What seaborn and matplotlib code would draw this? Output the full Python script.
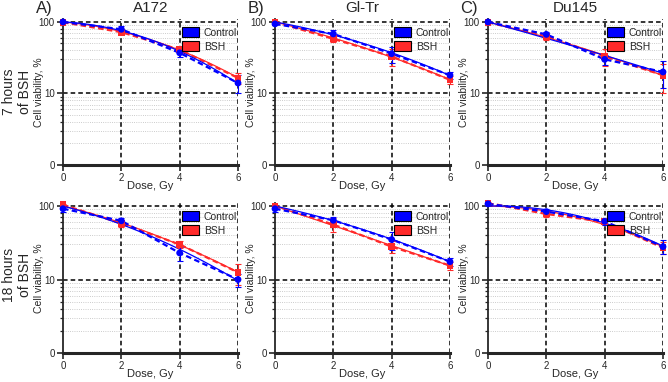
import numpy as np
import pandas as pd
import seaborn as sns
import matplotlib.pyplot as plt
from matplotlib.patches import Patch
from matplotlib.ticker import FixedLocator, NullFormatter

# doses and panel info
dose = [0, 2, 4, 6]
cells = ['A172', 'Gl-Tr', 'Du145']
letters = ['A)', 'B)', 'C)']
rows = ['7 hours\nof BSH', '18 hours\nof BSH']

# 7 hours of BSH
a172_7_ctrl = [100, 79, 37, 14]
a172_7_bsh = [99, 72, 41, 16.5]
gltr_7_ctrl = [94, 68, 36, 18]
gltr_7_bsh = [100, 58, 33, 15.5]
du145_7_ctrl = [100, 67, 30, 20]
du145_7_bsh = [99, 63, 33, 18]

# 18 hours of BSH
a172_18_ctrl = [92, 63, 23, 10]
a172_18_bsh = [104, 58, 30, 12.5]
gltr_18_ctrl = [92, 64, 35, 17.5]
gltr_18_bsh = [100, 56, 28, 15.5]
du145_18_ctrl = [107, 84, 62, 28]
du145_18_bsh = [110, 78, 61, 27]

# standard deviations (%)
a172_7_ctrl_sd = [3, 10, 5, 4]
a172_7_bsh_sd = [3, 5, 4, 3]
gltr_7_ctrl_sd = [3, 8, 9, 2]
gltr_7_bsh_sd = [3, 6, 9, 2]
du145_7_ctrl_sd = [3, 6, 5, 8]
du145_7_bsh_sd = [3, 7, 9, 8]
a172_18_ctrl_sd = [8, 5, 5, 2]
a172_18_bsh_sd = [4, 6, 3, 4]
gltr_18_ctrl_sd = [8, 6, 10, 2]
gltr_18_bsh_sd = [3, 12, 5, 2]
du145_18_ctrl_sd = [4, 6, 6, 6]
du145_18_bsh_sd = [4, 6, 5, 5]

data = [
    [(a172_7_ctrl, a172_7_ctrl_sd, a172_7_bsh, a172_7_bsh_sd),
     (gltr_7_ctrl, gltr_7_ctrl_sd, gltr_7_bsh, gltr_7_bsh_sd),
     (du145_7_ctrl, du145_7_ctrl_sd, du145_7_bsh, du145_7_bsh_sd)],
    [(a172_18_ctrl, a172_18_ctrl_sd, a172_18_bsh, a172_18_bsh_sd),
     (gltr_18_ctrl, gltr_18_ctrl_sd, gltr_18_bsh, gltr_18_bsh_sd),
     (du145_18_ctrl, du145_18_ctrl_sd, du145_18_bsh, du145_18_bsh_sd)],
]

blue = '#0000ff'
red = '#ff2a2a'

sns.set_style('white')
plt.rcParams['font.family'] = ['Liberation Sans', 'DejaVu Sans']

W, H = 668, 382
fig = plt.figure(figsize=(W / 100, H / 100), dpi=100)

lefts = [63, 275, 488]
width = 175
tops = [19, 203]
bottoms = [165, 353]


def lq_fit(y):
    # linear-quadratic fit through 100% at dose 0
    d = np.array(dose, float)
    ly = np.log(np.array(y) / 100.0)
    A = np.vstack([d, d ** 2]).T
    coef = np.linalg.lstsq(A, ly, rcond=None)[0]
    xx = np.linspace(0, 6, 100)
    return xx, 100 * np.exp(coef[0] * xx + coef[1] * xx ** 2)


for r in range(2):
    for c in range(3):
        h = bottoms[r] - tops[r]
        ax = fig.add_axes([lefts[c] / W, 1 - bottoms[r] / H, width / W, h / H])
        ctrl, ctrl_sd, bsh, bsh_sd = data[r][c]
        ax.set_yscale('log')
        ax.set_ylim(1, 110)
        ax.set_xlim(0, 6)

        # grid
        for v in list(range(2, 10)) + list(range(20, 100, 10)):
            ax.axhline(v, color='#bbbbbb', lw=0.6, ls=':', zorder=0)
        for v in [10, 100]:
            ax.axhline(v, color='black', lw=1.1, ls=(0, (3, 2)), zorder=1)
        for v in [2, 4, 6]:
            ax.axvline(v, color='black', lw=1.1, ls=(0, (3, 2)), zorder=1)

        for y, sd, col in [(bsh, bsh_sd, red), (ctrl, ctrl_sd, blue)]:
            df = pd.DataFrame({'dose': dose, 'v': y})
            xx, yy = lq_fit(y)
            ax.plot(xx, yy, color=col, lw=0.9, zorder=3)
            sns.lineplot(data=df, x='dose', y='v', ax=ax, color=col, lw=1.6,
                         ls=(0, (2.5, 1.5)), zorder=3)
            ax.errorbar(dose, y, yerr=sd, fmt='none', ecolor=col, elinewidth=0.8,
                        capsize=2, capthick=0.8, zorder=4, clip_on=False)
            ax.scatter(dose, y, color=col, marker='s' if col == red else 'o',
                       s=24, zorder=5, clip_on=False, edgecolors='none')

        ax.set_xticks([0, 2, 4, 6])
        ax.yaxis.set_major_locator(FixedLocator([1, 10, 100]))
        ax.set_yticklabels(['0', '10', '100'])
        minors = list(range(2, 10)) + list(range(20, 100, 10))
        ax.yaxis.set_minor_locator(FixedLocator(minors))
        ax.yaxis.set_minor_formatter(NullFormatter())
        ax.tick_params(axis='both', which='major', direction='out', length=4,
                       width=1.2, labelsize=7, pad=2, left=True, bottom=True)
        ax.tick_params(axis='y', which='minor', direction='out', length=2.5,
                       width=0.9, left=True)
        for s in ['top', 'right']:
            ax.spines[s].set_visible(False)
        ax.spines['left'].set_linewidth(1.3)
        ax.spines['bottom'].set_linewidth(2.2)
        ax.set_xlabel('Dose, Gy', fontsize=8)
        ax.set_ylabel('Cell viability, %', fontsize=7.5)
        ax.xaxis.set_label_coords(0.5, -16 / h)
        ax.yaxis.set_label_coords(-19 / width, 0.5)

        handles = [Patch(facecolor=blue, edgecolor='black', lw=0.8, label='Control'),
                   Patch(facecolor=red, edgecolor='black', lw=0.8, label='BSH')]
        ax.legend(handles=handles, loc='upper right', bbox_to_anchor=(1.03, 0.985),
                  fontsize=7.5, frameon=False, handlelength=1.6, handleheight=1.1,
                  handletextpad=0.5, borderaxespad=0.2, labelspacing=0.3)

        if r == 0:
            ax.set_title(cells[c], fontsize=11, pad=5)
            fig.text((lefts[c] - 19) / W, 1 - 9 / H, letters[c], fontsize=12,
                     ha='center', va='center')

for r, yc in enumerate([92, 275]):
    fig.text(17 / W, 1 - yc / H, rows[r], fontsize=10, rotation=90,
             ha='center', va='center', multialignment='center')

fig.savefig('out.png', dpi=100)
